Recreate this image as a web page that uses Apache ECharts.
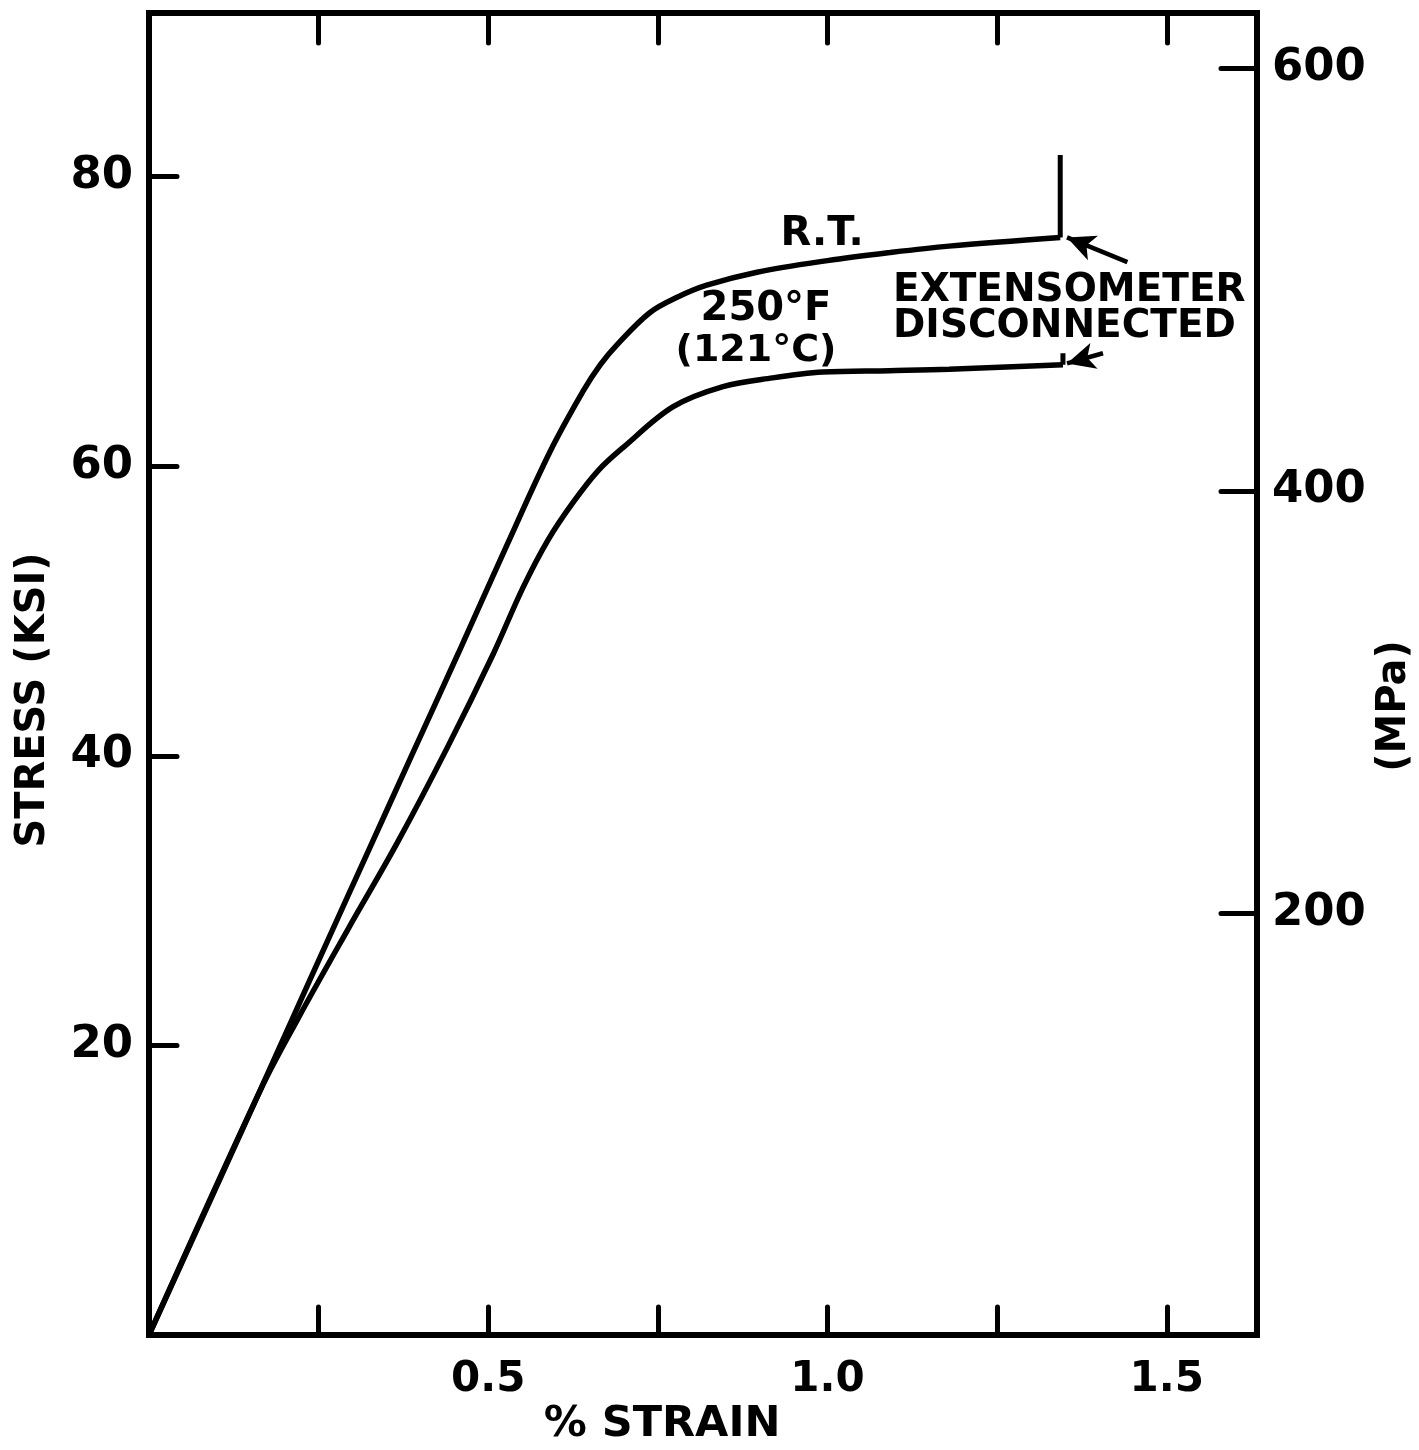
<!DOCTYPE html>
<html>
<head>
<meta charset="utf-8">
<script src="https://cdn.jsdelivr.net/npm/echarts@6.0.0/dist/echarts.min.js"></script>
<style>
  html, body { margin: 0; padding: 0; background: #fff; }
  #chart { width: 1419px; height: 1450px; }
</style>
</head>
<body>
<div id="chart"></div>
<script>
// strain (%) / stress (ksi)
const rtCurve = [
  [0, 0], [0.162, 16.7], [0.210, 21.7], [0.263, 27.2], [0.322, 33.3],
  [0.385, 39.8], [0.456, 47.1], [0.528, 54.6], [0.591, 61.0], [0.640, 65.2],
  [0.665, 67.0], [0.690, 68.4], [0.738, 70.6], [0.780, 71.7], [0.822, 72.5],
  [0.896, 73.4], [1.0, 74.2], [1.091, 74.75], [1.179, 75.2], [1.343, 75.8]
];
const hotCurve = [
  [0, 0], [0.165, 17.0], [0.219, 21.8], [0.293, 28.0], [0.366, 34.0],
  [0.440, 40.6], [0.507, 47.0], [0.551, 51.6], [0.588, 54.9], [0.625, 57.5],
  [0.662, 59.7], [0.699, 61.3], [0.772, 64.1], [0.846, 65.5], [0.919, 66.1],
  [0.993, 66.5], [1.091, 66.6], [1.179, 66.7], [1.347, 67.0]
];
// extensometer disconnected marks
const rtBreak = [[1.343, 75.8], [1.343, 81.5]];
const hotBreak = [[1.347, 67.0], [1.347, 67.8]];
const arrowRT = [[1.442, 74.1], [1.353, 75.8]];
const arrowHot = [[1.406, 67.8], [1.353, 67.1]];

const strainTicks = [0.25, 0.5, 0.75, 1.0, 1.25, 1.5];
const strainLabels = [0.5, 1.0, 1.5];
const stressTicks = [20, 40, 60, 80];
const mpaLabels = ['200', '400', '600'];

const chart = echarts.init(document.getElementById('chart'));
const FONT = 'DejaVu Sans';
const tickStyle = { color: '#000', width: 5, cap: 'round' };
const noLine = { show: false, onZero: false };

function curve(data, name) {
  return {
    name, type: 'line', data, xAxisIndex: 0, yAxisIndex: 0,
    symbol: 'none', smooth: 0.35,
    lineStyle: { color: '#000', width: 5.5 }, silent: true
  };
}
function arrow(pts) {
  return [{ coord: pts[0], symbol: 'none' }, { coord: pts[1], symbol: 'arrow' }];
}

const option = {
  backgroundColor: '#fff',
  animation: false,
  grid: {
    left: 149, right: 162, top: 13, bottom: 115,
    show: true, borderColor: '#000', borderWidth: 6
  },
  xAxis: [
    {
      type: 'value', min: 0, max: 1.633, position: 'bottom',
      axisLine: noLine, splitLine: { show: false },
      axisTick: { inside: true, length: 28, lineStyle: tickStyle, customValues: strainTicks },
      axisLabel: {
        customValues: strainLabels, margin: 24, color: '#000',
        fontFamily: FONT, fontWeight: 'bold', fontSize: 42,
        formatter: v => v.toFixed(1)
      }
    },
    {
      type: 'value', min: 0, max: 1.633, position: 'top',
      axisLine: noLine, splitLine: { show: false },
      axisTick: { inside: true, length: 30, lineStyle: tickStyle, customValues: strainTicks },
      axisLabel: { show: false }
    }
  ],
  yAxis: [
    {
      type: 'value', min: 0, max: 91.3, position: 'left',
      axisLine: noLine, splitLine: { show: false },
      axisTick: { inside: true, length: 28, lineStyle: tickStyle, customValues: stressTicks },
      axisLabel: {
        customValues: stressTicks, margin: 16, color: '#000',
        fontFamily: FONT, fontWeight: 'bold', fontSize: 45
      }
    },
    {
      type: 'value', min: 0, max: 626.4, interval: 200, position: 'right',
      axisLine: noLine, splitLine: { show: false },
      axisTick: { inside: true, length: 36, lineStyle: tickStyle },
      axisLabel: {
        margin: 15, color: '#000', showMinLabel: false, showMaxLabel: false,
        fontFamily: FONT, fontWeight: 'bold', fontSize: 45,
        formatter: v => mpaLabels.includes(String(v)) ? String(v) : ''
      }
    }
  ],
  series: [
    curve(rtCurve, 'R.T.'),
    curve(hotCurve, '250°F'),
    {
      type: 'line', data: rtBreak, symbol: 'none', silent: true,
      lineStyle: { color: '#000', width: 5 }
    },
    {
      type: 'line', data: hotBreak, symbol: 'none', silent: true,
      lineStyle: { color: '#000', width: 5 },
      markLine: {
        silent: true, animation: false, symbolSize: [20, 28],
        label: { show: false },
        lineStyle: { color: '#000', width: 4.5, type: 'solid' },
        data: [arrow(arrowRT), arrow(arrowHot)]
      }
    }
  ],
  graphic: [
    { type: 'text', x: 822, y: 235, style: { text: 'R.T.', font: 'bold 40px ' + FONT, textAlign: 'center', textVerticalAlign: 'middle', fill: '#000' } },
    { type: 'text', x: 766, y: 310, style: { text: '250°F', font: 'bold 40px ' + FONT, textAlign: 'center', textVerticalAlign: 'middle', fill: '#000' } },
    { type: 'text', x: 756, y: 351, style: { text: '(121°C)', font: 'bold 38px ' + FONT, textAlign: 'center', textVerticalAlign: 'middle', fill: '#000' } },
    { type: 'text', x: 893, y: 291, style: { text: 'EXTENSOMETER', font: 'bold 39px ' + FONT, textAlign: 'left', textVerticalAlign: 'middle', fill: '#000' } },
    { type: 'text', x: 893, y: 327, style: { text: 'DISCONNECTED', font: 'bold 39px ' + FONT, textAlign: 'left', textVerticalAlign: 'middle', fill: '#000' } },
    { type: 'text', x: 662, y: 1425, style: { text: '% STRAIN', font: 'bold 43px ' + FONT, textAlign: 'center', textVerticalAlign: 'middle', fill: '#000' } },
    { type: 'text', x: 34, y: 700, rotation: Math.PI / 2, style: { text: 'STRESS (KSI)', font: 'bold 40px ' + FONT, textAlign: 'center', textVerticalAlign: 'middle', fill: '#000' } },
    { type: 'text', x: 1395, y: 706, rotation: Math.PI / 2, style: { text: '(MPa)', font: 'bold 40px ' + FONT, textAlign: 'center', textVerticalAlign: 'middle', fill: '#000' } }
  ]
};

chart.setOption(option);
</script>
</body>
</html>
